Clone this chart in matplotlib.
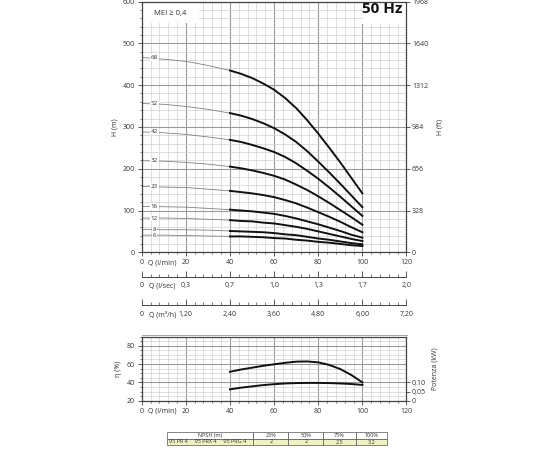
import numpy as np
import matplotlib
matplotlib.use("Agg")
import matplotlib.pyplot as plt
from matplotlib.patches import Rectangle

plt.rcParams['font.family'] = ['Open Sans', 'DejaVu Sans']
plt.rcParams['font.size'] = 5

# --- du lieu doc tu hinh ---
q_head = [0, 10, 20, 30, 40, 45, 50, 55, 60, 65, 70, 75, 80, 85, 90, 95, 100]   # l/min
stages = [68, 52, 42, 32, 23, 16, 12, 8, 6]
head = {
    68: [466, 462, 457, 447, 435, 427, 417, 404, 389, 369, 345, 316, 284, 250, 215, 178, 141],
    52: [356, 354, 349, 342, 333, 327, 319, 309, 297, 282, 264, 242, 217, 191, 164, 136, 108],
    42: [288, 286, 282, 276, 269, 264, 257, 249, 240, 228, 213, 195, 176, 155, 133, 110, 87],
    32: [219, 218, 215, 211, 205, 201, 196, 190, 183, 174, 162, 149, 134, 118, 101, 84, 66],
    23: [158, 156, 155, 151, 147, 144, 141, 137, 132, 125, 117, 107, 96, 85, 73, 60, 48],
    16: [110, 109, 108, 105, 102, 100, 98, 95, 92, 87, 81, 74, 67, 59, 51, 42, 35],
    12: [82, 82, 81, 79, 77, 75, 74, 71, 69, 65, 61, 56, 50, 44, 38, 32, 27],
    8: [55, 54, 54, 53, 51, 50, 49, 48, 46, 43, 41, 37, 33, 30, 26, 22, 19],
    6: [41, 41, 40, 39, 38, 38, 37, 36, 34, 33, 30, 28, 25, 23, 20, 17, 15],
}
q_work_min = 40

q_eff = [40, 45, 50, 55, 60, 65, 70, 75, 80, 85, 90, 95, 100]
eta = [51.5, 54, 56, 58, 59.7, 61.3, 62.6, 62.8, 61.8, 59, 54.5, 48, 40]
power_kw = [0.062, 0.071, 0.078, 0.085, 0.090, 0.094, 0.096, 0.097, 0.097, 0.096, 0.094, 0.091, 0.086]

q_ticks = [0, 20, 40, 60, 80, 100, 120]
lsec_labels = ['0', '0,3', '0,7', '1,0', '1,3', '1,7', '2,0']
m3h_labels = ['0', '1,20', '2,40', '3,60', '4,80', '6,00', '7,20']
h_ticks = [0, 100, 200, 300, 400, 500, 600]
ft_labels = ['0', '328', '656', '984', '1312', '1640', '1968']

npsh_header = ['NPSH (m)', '25%', '50%', '75%', '100%']
npsh_row = ['95 PR 4     95 PRX 4     95 PRG 4', '2', '2', '2,5', '3,2']

W, H = 550, 450
fig = plt.figure(figsize=(5.5, 4.5), dpi=100)


def fbox(x0, y0, x1, y1):
    # pixel -> toa do figure
    return [x0 / W, 1 - y1 / H, (x1 - x0) / W, (y1 - y0) / H]


TXT = '#333333'
SP = '#444444'
XL, XR = 141.7, 406.5

# =========================================================
# 1. BIEU DO H-Q
# =========================================================
ax = fig.add_axes(fbox(XL, 1.5, XR, 252.3))
ax.set_xlim(0, 120)
ax.set_ylim(0, 600)
for x in np.arange(0, 121, 4):
    ax.axvline(x, color='#9a9a9a' if x % 20 == 0 else '#d0d0d0',
               lw=0.8 if x % 20 == 0 else 0.5, zorder=0)
for y in np.arange(0, 601, 20):
    ax.axhline(y, color='#9a9a9a' if y % 100 == 0 else '#d0d0d0',
               lw=0.8 if y % 100 == 0 else 0.5, zorder=0)

ax.add_patch(Rectangle((0, 548), 26, 52, facecolor='white', edgecolor='none', zorder=1))
ax.add_patch(Rectangle((100, 546), 20, 54, facecolor='white', edgecolor='none', zorder=1))
ax.text(13, 572, 'MEI ≥ 0,4', ha='center', va='center', fontsize=5.5, color=TXT, zorder=3)
ax.text(109, 581, '50 Hz', ha='center', va='center', fontsize=11,
        fontweight='bold', color='#111111', zorder=3)

for s in stages:
    qq = np.array(q_head)
    hh = np.array(head[s])
    m = qq <= q_work_min
    ax.plot(qq[m], hh[m], color='#808080', lw=0.6, zorder=2)
    ax.plot(qq[qq >= q_work_min], hh[qq >= q_work_min], color='#111111', lw=1.4,
            zorder=3, solid_joinstyle='round')
    ax.text(5.7, hh[0], str(s), ha='center', va='center', fontsize=4.5, color=TXT, zorder=4,
            bbox=dict(facecolor='white', edgecolor='none', pad=0.6))

for sp in ax.spines.values():
    sp.set_color(SP)
    sp.set_linewidth(0.9)
ax.set_xticks(q_ticks)
ax.set_xticks(np.arange(0, 121, 4), minor=True)
ax.set_xticklabels(['0', '20', '40', '60', '80', '100', '120'])
ax.set_yticks(h_ticks)
ax.set_yticks(np.arange(0, 601, 20), minor=True)
ax.tick_params(axis='both', which='major', length=3, width=0.6, color=SP, labelsize=5, labelcolor=TXT, pad=2)
ax.tick_params(axis='both', which='minor', length=1.5, width=0.5, color=SP)
ax.annotate('Q (l/min)', xy=(9.5, 0), xycoords=ax.get_xaxis_transform(), xytext=(0, -5),
            textcoords='offset points', ha='center', va='top', fontsize=5, color=TXT)
ax.set_ylabel('H (m)', fontsize=5, color=TXT, labelpad=3)

ax2 = ax.twinx()
ax2.set_ylim(0, 600)
ax2.set_yticks(h_ticks)
ax2.set_yticklabels(ft_labels)
ax2.tick_params(axis='y', length=3, width=0.6, color=SP, labelsize=5, labelcolor=TXT, pad=1)
for sp in ax2.spines.values():
    sp.set_visible(False)
ax2.set_ylabel('H (ft)', fontsize=5, color=TXT, labelpad=6)


# =========================================================
# 2. CAC TRUC LUU LUONG PHU
# =========================================================
def q_axis(y_px, labels, name):
    a = fig.add_axes(fbox(XL, y_px - 0.5, XR, y_px))
    a.set_xlim(0, 120)
    a.set_yticks([])
    for k in ['top', 'left', 'right']:
        a.spines[k].set_visible(False)
    a.spines['bottom'].set_color(SP)
    a.spines['bottom'].set_linewidth(0.7)
    a.set_xticks(q_ticks)
    a.set_xticklabels(labels)
    a.set_xticks(np.arange(0, 121, 4), minor=True)
    a.tick_params(axis='x', which='major', direction='in', length=4, width=0.6, color=SP,
                  labelsize=5, labelcolor=TXT, pad=4)
    a.tick_params(axis='x', which='minor', direction='in', length=2.5, width=0.5, color=SP)
    a.patch.set_alpha(0)
    a.annotate(name, xy=(9.5, 0), xycoords=a.get_xaxis_transform(), xytext=(0, -4),
               textcoords='offset points', ha='center', va='top', fontsize=5, color=TXT)


q_axis(276.7, lsec_labels, 'Q (l/sec)')
q_axis(305.0, m3h_labels, 'Q (m³/h)')
fig.add_artist(plt.Line2D([XL / W, XR / W], [1 - 334.5 / H, 1 - 334.5 / H],
                          color='#999999', lw=0.6))

# =========================================================
# 3. HIEU SUAT & CONG SUAT
# =========================================================
ae = fig.add_axes(fbox(XL, 336.5, XR, 400.7))
ae.set_xlim(0, 120)
ae.set_ylim(20, 90)
for x in np.arange(0, 121, 4):
    ae.axvline(x, color='#9a9a9a' if x % 20 == 0 else '#d0d0d0',
               lw=0.8 if x % 20 == 0 else 0.5, zorder=0)
for y in np.arange(20, 91, 5):
    ae.axhline(y, color='#9a9a9a' if y % 20 == 0 else '#d0d0d0',
               lw=0.8 if y % 20 == 0 else 0.5, zorder=0)
ae.plot(q_eff, eta, color='#111111', lw=1.4, zorder=3)
for sp in ae.spines.values():
    sp.set_color(SP)
    sp.set_linewidth(0.9)
ae.set_xticks(q_ticks)
ae.set_xticks(np.arange(0, 121, 4), minor=True)
ae.set_yticks([20, 40, 60, 80])
ae.set_yticks(np.arange(20, 91, 5), minor=True)
ae.tick_params(axis='both', which='major', length=3, width=0.6, color=SP, labelsize=5, labelcolor=TXT, pad=2)
ae.tick_params(axis='both', which='minor', length=1.5, width=0.5, color=SP)
ae.annotate('Q (l/min)', xy=(9.5, 0), xycoords=ae.get_xaxis_transform(), xytext=(0, -5),
            textcoords='offset points', ha='center', va='top', fontsize=5, color=TXT)
ae.set_ylabel('η (%)', fontsize=5, color=TXT, labelpad=3)

ap = ae.twinx()
ap.set_ylim(0, 0.35)
ap.plot(q_eff, power_kw, color='#111111', lw=1.4, zorder=3)
ap.set_yticks([0, 0.05, 0.10])
ap.set_yticklabels(['0', '0,05', '0,10'])
ap.tick_params(axis='y', length=3, width=0.6, color=SP, labelsize=5, labelcolor=TXT, pad=1)
for sp in ap.spines.values():
    sp.set_visible(False)
ap.set_ylabel('Potenza (kW)', fontsize=5, color=TXT, labelpad=4)

# =========================================================
# 4. BANG NPSH
# =========================================================
at = fig.add_axes([0, 0, 1, 1])
at.set_xlim(0, W)
at.set_ylim(H, 0)
at.axis('off')
at.patch.set_alpha(0)
col_x = [166.7, 253.3, 288.3, 323.3, 355.7, 387.3]
row_y = [432.3, 438.5, 445.0]
for r, (cells, bg) in enumerate([(npsh_header, 'white'), (npsh_row, '#eef1c2')]):
    for c, txt in enumerate(cells):
        x0, x1 = col_x[c], col_x[c + 1]
        y0, y1 = row_y[r], row_y[r + 1]
        at.add_patch(Rectangle((x0, y0), x1 - x0, y1 - y0, facecolor=bg,
                               edgecolor='#555555', lw=0.5))
        if r == 1 and c == 0:
            at.text(x0 + 2, (y0 + y1) / 2, txt, ha='left', va='center', fontsize=4, color=TXT)
        else:
            at.text((x0 + x1) / 2, (y0 + y1) / 2, txt, ha='center', va='center',
                    fontsize=4, color=TXT)

fig.savefig('out.png', dpi=100)
